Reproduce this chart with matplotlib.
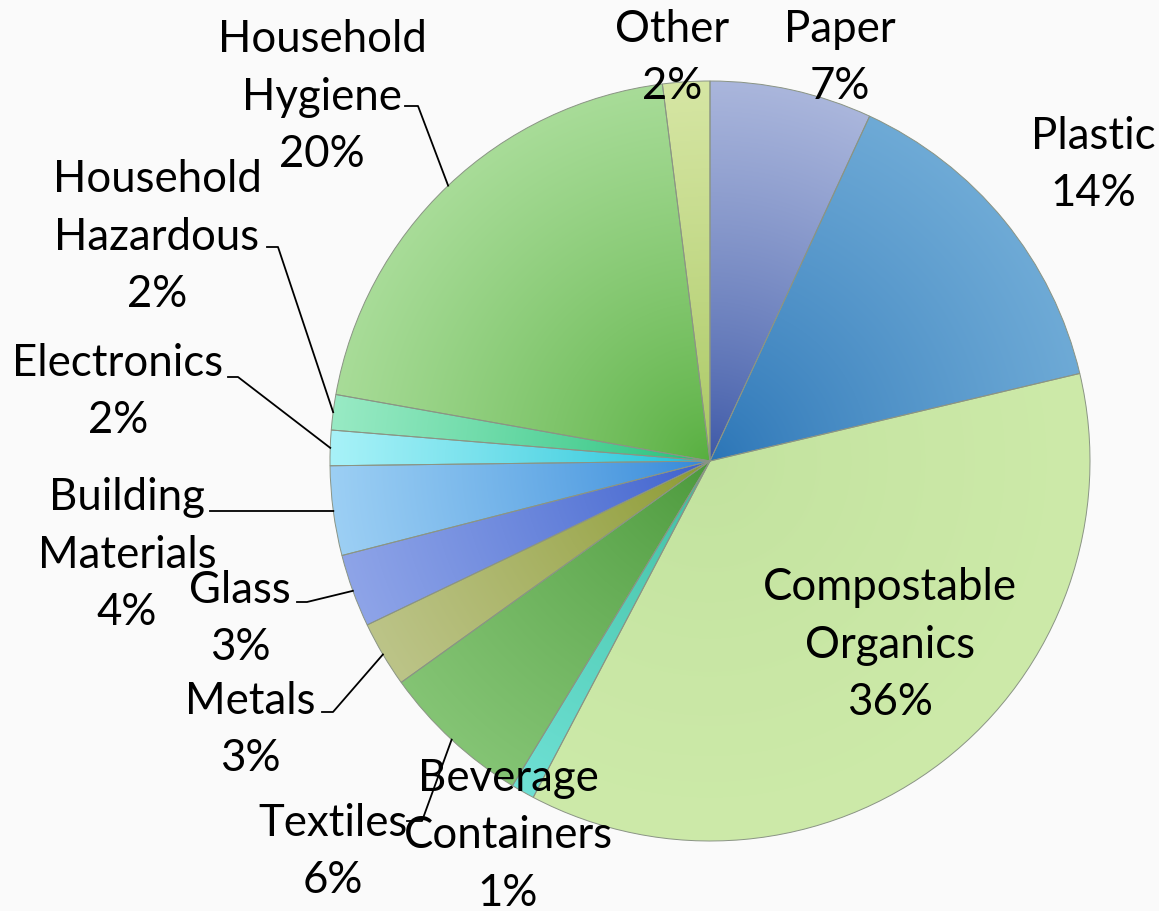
import matplotlib
matplotlib.use("Agg")
import matplotlib.pyplot as plt
import numpy as np
from matplotlib.colors import to_rgb

# waste composition, clockwise from 12 o'clock
categories = ["Paper", "Plastic", "Compostable Organics", "Beverage Containers",
              "Textiles", "Metals", "Glass", "Building Materials", "Electronics",
              "Household Hazardous", "Household Hygiene", "Other"]
shares = [6.9, 14.4, 36.4, 1.0, 6.4, 2.8, 3.1, 3.8, 1.5, 1.5, 20.2, 2.0]

# rim / centre colour of each slice (gradient fill)
rim_colors = ["#aab6dc", "#6eaad6", "#cdeaa9", "#6ee0d4", "#84c474", "#bcc488",
              "#8ea4e8", "#9ccff4", "#a8f2f8", "#98eac4", "#a8dc98", "#d6e6a4"]
core_colors = ["#3a56a6", "#2a74b6", "#c2e29e", "#3cbc9c", "#4a983a", "#8a982e",
               "#3a5ecc", "#3086d8", "#14bed4", "#1ebe76", "#56ae3e", "#a6c65e"]

W, H = 1159, 912
cx, cy, R = 710, H - 462, 380

# label centres in pixels (from top left)
label_pos = {
    "Paper": (840, 58), "Plastic": (1093, 165), "Compostable Organics": (890, 645),
    "Beverage Containers": (508, 836), "Textiles": (333, 852), "Metals": (250, 730),
    "Glass": (240, 619), "Building Materials": (127, 555), "Electronics": (118, 392),
    "Household Hazardous": (157, 237), "Household Hygiene": (322, 97), "Other": (672, 58),
}
# leader line start (pixels from top left) and horizontal stub length
leaders = {
    "Textiles": (407, 822, 15), "Metals": (322, 713, 11), "Glass": (297, 603, 10),
    "Building Materials": (210, 512, 10), "Electronics": (228, 378, 10),
    "Household Hazardous": (267, 248, 11), "Household Hygiene": (405, 107, 13),
}

fig = plt.figure(figsize=(W / 100, H / 100), dpi=100)
fig.patch.set_facecolor("#fafafa")
ax = fig.add_axes([0, 0, 1, 1])
ax.set_facecolor("#fafafa")

wedges, _ = ax.pie(shares, startangle=90, counterclock=False, center=(cx, cy),
                   radius=R, colors=core_colors,
                   wedgeprops=dict(edgecolor="#8a9484", linewidth=0.7))

# radial gradient inside every slice
n = 600
xs = np.linspace(cx - R, cx + R, n)
ys = np.linspace(cy - R, cy + R, n)
X, Y = np.meshgrid(xs, ys)
r = np.clip(np.hypot(X - cx, Y - cy) / R, 0, 1)[..., None] ** 0.8
for w, c_rim, c_core in zip(wedges, rim_colors, core_colors):
    a = np.array(to_rgb(c_core))
    b = np.array(to_rgb(c_rim))
    img = a * (1 - r) + b * r
    im = ax.imshow(img, extent=(cx - R, cx + R, cy - R, cy + R), origin="lower",
                   zorder=1, interpolation="bilinear")
    im.set_clip_path(w)
    w.set_facecolor("none")
    w.set_zorder(2)

for name, v in zip(categories, shares):
    lx, ly = label_pos[name]
    ax.text(lx, H - ly, f"{name.replace(' ', chr(10))}\n{v:.0f}%", ha="center",
            va="center", fontsize=31.5, family="Lato", linespacing=1.5, zorder=4)

for w, name in zip(wedges, categories):
    if name not in leaders:
        continue
    sx, sy, stub = leaders[name]
    th = np.deg2rad((w.theta1 + w.theta2) / 2)
    ex, ey = cx + R * np.cos(th), cy + R * np.sin(th)
    ax.plot([sx, sx + stub, ex], [H - sy, H - sy, ey], color="black", lw=1.3, zorder=3)

ax.set_xlim(0, W)
ax.set_ylim(0, H)
ax.set_aspect("equal")
ax.axis("off")

fig.savefig("out.png", dpi=100, facecolor=fig.get_facecolor())
